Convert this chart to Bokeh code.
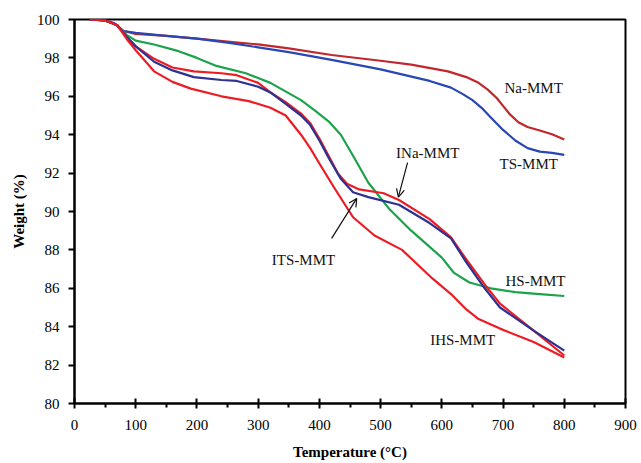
from bokeh.plotting import figure
from bokeh.models import Arrow, OpenHead, Label, FixedTicker, Range1d
from bokeh.embed import file_html
from bokeh.resources import INLINE

# Data
na_t = [25, 50, 65, 80, 100, 150, 200, 250, 300, 350, 420, 500, 550, 610, 640, 660, 675, 690, 700, 710, 725, 740, 760, 780, 800]
na_w = [100, 99.95, 99.8, 99.4, 99.25, 99.15, 99.0, 98.85, 98.7, 98.5, 98.15, 97.85, 97.65, 97.3, 97.0, 96.7, 96.35, 95.9, 95.5, 95.1, 94.65, 94.4, 94.22, 94.02, 93.75]

ts_t = [25, 50, 65, 80, 100, 150, 200, 250, 300, 350, 420, 500, 580, 615, 635, 650, 665, 680, 700, 720, 740, 760, 780, 800]
ts_w = [100, 99.95, 99.8, 99.4, 99.3, 99.15, 99.0, 98.8, 98.55, 98.3, 97.9, 97.4, 96.8, 96.45, 96.1, 95.8, 95.4, 94.9, 94.25, 93.7, 93.3, 93.12, 93.05, 92.95]

hs_t = [25, 50, 70, 85, 100, 130, 170, 200, 230, 280, 320, 370, 395, 415, 435, 455, 480, 515, 550, 600, 620, 645, 680, 720, 760, 800]
hs_w = [100, 99.95, 99.7, 99.2, 98.9, 98.7, 98.35, 98.0, 97.6, 97.2, 96.7, 95.8, 95.2, 94.7, 94.0, 92.9, 91.5, 90.1, 89.0, 87.6, 86.8, 86.3, 86.0, 85.8, 85.7, 85.6]

ina_t = [25, 50, 70, 85, 100, 130, 160, 195, 240, 265, 300, 320, 345, 370, 385, 400, 415, 430, 445, 465, 505, 530, 580, 615, 640, 670, 695, 750, 800]
ina_w = [100, 99.95, 99.7, 99.1, 98.6, 97.95, 97.5, 97.3, 97.2, 97.1, 96.7, 96.2, 95.7, 95.1, 94.6, 93.8, 92.9, 92.0, 91.45, 91.15, 90.95, 90.6, 89.6, 88.65, 87.5, 86.2, 85.2, 83.8, 82.5]

its_t = [25, 50, 70, 85, 100, 130, 160, 195, 240, 265, 300, 320, 345, 370, 385, 400, 415, 435, 455, 480, 530, 580, 615, 640, 670, 695, 750, 800]
its_w = [100, 99.95, 99.7, 99.1, 98.6, 97.8, 97.35, 97.0, 96.85, 96.8, 96.5, 96.2, 95.6, 95.0, 94.5, 93.7, 92.8, 91.7, 91.0, 90.75, 90.35, 89.4, 88.6, 87.35, 86.0, 85.0, 83.8, 82.75]

ihs_t = [25, 50, 70, 85, 100, 130, 160, 190, 240, 285, 320, 345, 370, 385, 400, 425, 455, 490, 535, 585, 615, 640, 660, 695, 750, 800]
ihs_w = [100, 99.95, 99.7, 99.0, 98.4, 97.3, 96.75, 96.4, 96.0, 95.75, 95.4, 95.0, 94.0, 93.3, 92.5, 91.2, 89.7, 88.75, 88.0, 86.5, 85.7, 84.9, 84.4, 83.9, 83.2, 82.4]

x_ticks = [0, 100, 200, 300, 400, 500, 600, 700, 800, 900]
y_ticks = [80, 82, 84, 86, 88, 90, 92, 94, 96, 98, 100]

series = [
    (na_t, na_w, "#C1272D"),
    (ts_t, ts_w, "#2846B4"),
    (hs_t, hs_w, "#1CA24B"),
    (ina_t, ina_w, "#EC1C24"),
    (its_t, its_w, "#2E3192"),
    (ihs_t, ihs_w, "#EC1C24"),
]

labels = [
    ("Na-MMT", 750, 96.45),
    ("TS-MMT", 742, 92.5),
    ("INa-MMT", 577, 93.07),
    ("ITS-MMT", 374, 87.45),
    ("HS-MMT", 753, 86.4),
    ("IHS-MMT", 634, 83.3),
]

arrows = [
    (544, 92.55, 529, 90.75),
    (420, 88.6, 461, 90.68),
]

SERIF = "Liberation Serif"

p = figure(width=641, height=463, output_backend="svg", toolbar_location=None,
           x_range=Range1d(0, 900), y_range=Range1d(80, 100),
           min_border_left=74, min_border_right=16, min_border_top=19, min_border_bottom=60)
p.background_fill_color = "white"
p.border_fill_color = "white"
p.outline_line_color = "black"
p.outline_line_width = 2
p.xgrid.visible = False
p.ygrid.visible = False

for t, w, c in series:
    p.line(t, w, line_color=c, line_width=2.2, line_join="round")

for txt, x, y in labels:
    p.add_layout(Label(x=x, y=y, text=txt, text_font=SERIF, text_font_size="15px",
                       text_align="center", text_baseline="middle", text_color="#111111"))

for x0, y0, x1, y1 in arrows:
    p.add_layout(Arrow(x_start=x0, y_start=y0, x_end=x1, y_end=y1,
                       line_color="#111111", line_width=1.2,
                       end=OpenHead(size=8, line_color="#111111", line_width=1.2)))

p.xaxis.ticker = FixedTicker(ticks=x_ticks, minor_ticks=[50 + 100 * i for i in range(9)])
p.yaxis.ticker = FixedTicker(ticks=y_ticks, minor_ticks=[])

for ax in (p.xaxis[0], p.yaxis[0]):
    ax.axis_line_color = "black"
    ax.axis_line_width = 2
    ax.major_tick_line_color = "black"
    ax.major_tick_line_width = 2
    ax.minor_tick_line_color = "black"
    ax.minor_tick_line_width = 2
    ax.major_label_text_font = SERIF
    ax.major_label_text_font_size = "15px"
    ax.major_label_text_color = "black"
    ax.axis_label_text_font = SERIF
    ax.axis_label_text_font_size = "15px"
    ax.axis_label_text_font_style = "bold"
    ax.axis_label_text_color = "black"

p.xaxis.axis_label = "Temperature (°C)"
p.yaxis.axis_label = "Weight (%)"
p.xaxis.major_tick_in = 5
p.xaxis.major_tick_out = 5
p.xaxis.minor_tick_in = 0
p.xaxis.minor_tick_out = 4
p.xaxis.major_label_standoff = 11
p.xaxis.axis_label_standoff = 11
p.yaxis.major_tick_in = 0
p.yaxis.major_tick_out = 6
p.yaxis.major_label_standoff = 9
p.yaxis.axis_label_standoff = 7

open("out.html", "w").write(file_html(p, INLINE))
